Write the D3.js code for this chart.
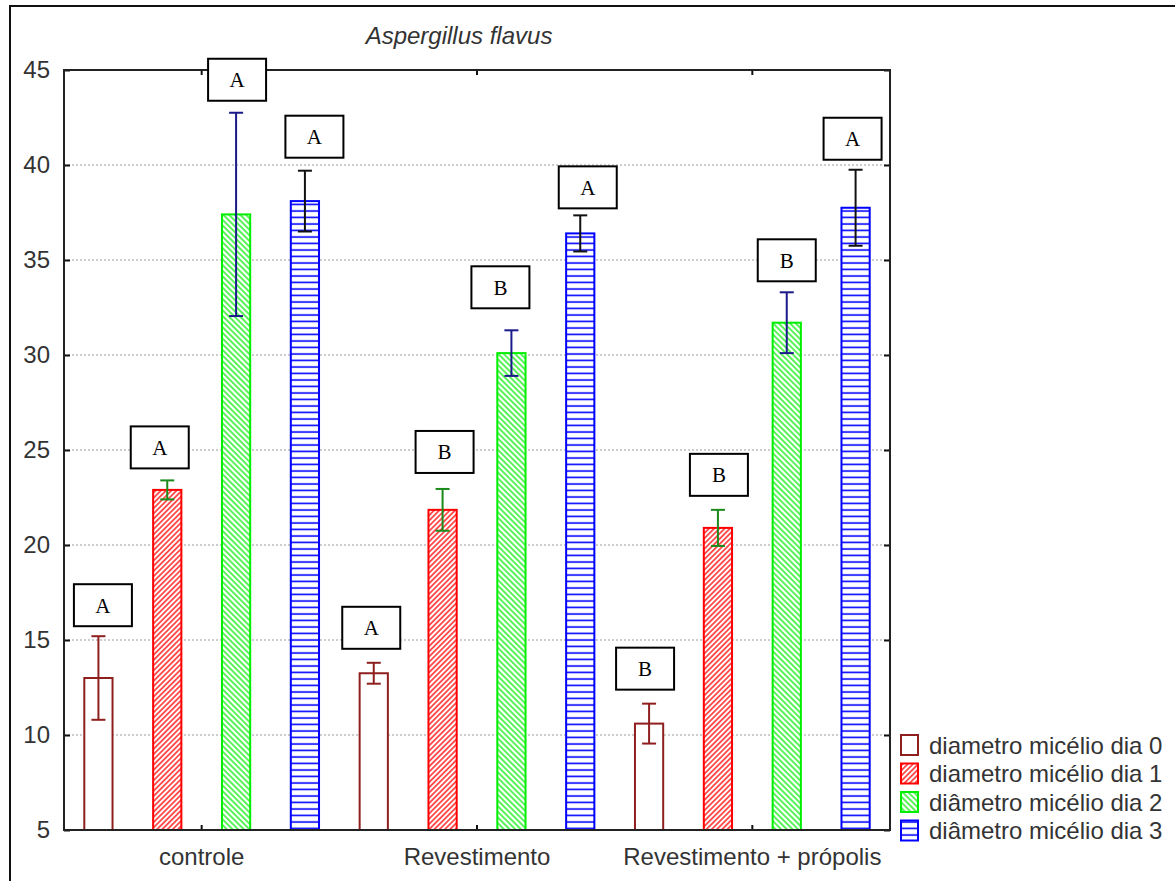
<!DOCTYPE html>
<html>
<head>
<meta charset="utf-8">
<script src="https://cdn.jsdelivr.net/npm/d3@7"></script>
<style>
  html, body { margin: 0; padding: 0; background: #fff; }
  svg { display: block; }
  text { font-family: Arial, "Liberation Sans", sans-serif; fill: #333; }
</style>
</head>
<body>
<svg id="chart" width="1175" height="881"></svg>
<script>
// Mycelium diameter of Aspergillus flavus by treatment and day
const categories = ["controle", "Revestimento", "Revestimento + própolis"];
const seriesNames = [
  "diametro micélio dia 0",
  "diametro micélio dia 1",
  "diâmetro micélio dia 2",
  "diâmetro micélio dia 3"
];
const dia0Mean = [13.0, 13.25, 10.6];
const dia0Err  = [2.2, 0.55, 1.05];
const dia1Mean = [22.9, 21.85, 20.9];
const dia1Err  = [0.5, 1.1, 0.95];
const dia2Mean = [37.4, 30.1, 31.7];
const dia2Err  = [5.35, 1.2, 1.6];
const dia3Mean = [38.1, 36.4, 37.75];
const dia3Err  = [1.6, 0.95, 2.0];
const dia0Letters = ["A", "A", "B"];
const dia1Letters = ["A", "B", "B"];
const dia2Letters = ["A", "B", "B"];
const dia3Letters = ["A", "A", "A"];
const yTicks = [5, 10, 15, 20, 25, 30, 35, 40, 45];

// Letter-box placement tweaks (pixels): horizontal shift and gap above the error cap
const letterDx  = [[4.5, -2.5, -4], [-7.5, 2, 1], [1, -11, 0], [9.5, 7.5, -3]];
const letterGap = [[10, 14, 14], [12, 16, 14], [12, 22, 11], [13, 7, 10]];

const means = [dia0Mean, dia1Mean, dia2Mean, dia3Mean];
const errs = [dia0Err, dia1Err, dia2Err, dia3Err];
const letters = [dia0Letters, dia1Letters, dia2Letters, dia3Letters];

const barStroke = ["#8f1f1f", "#ff0000", "#00ee00", "#0000ff"];
const errColor = ["#8f1f1f", "#1a8a1a", "#1a1a8a", "#111111"];
const fills = ["#ffffff", "url(#hatchRed)", "url(#hatchGreen)", "url(#hatchBlue)"];

const svg = d3.select("#chart");
const plot = { left: 64, right: 890, top: 70, bottom: 830 };
const FONT = 24;

// Patterns
const defs = svg.append("defs");
function diag(id, color, angle, gap) {
  const p = defs.append("pattern").attr("id", id)
    .attr("patternUnits", "userSpaceOnUse")
    .attr("width", gap).attr("height", gap)
    .attr("patternTransform", `rotate(${angle})`);
  p.append("rect").attr("width", gap).attr("height", gap).attr("fill", "#fff");
  p.append("line").attr("x1", gap / 2).attr("x2", gap / 2).attr("y1", 0).attr("y2", gap)
    .attr("stroke", color).attr("stroke-width", 1.3);
}
diag("hatchRed", "#ff0000", 45, 3.7);
diag("hatchGreen", "#00ee00", -45, 4.0);
const hb = defs.append("pattern").attr("id", "hatchBlue")
  .attr("patternUnits", "userSpaceOnUse").attr("width", 10).attr("height", 6.5);
hb.append("rect").attr("width", 10).attr("height", 6.5).attr("fill", "#fff");
hb.append("line").attr("x1", 0).attr("x2", 10).attr("y1", 3).attr("y2", 3)
  .attr("stroke", "#0000ff").attr("stroke-width", 1.6);

// Outer frame
svg.append("path").attr("d", "M10,881 V6 H1175")
  .attr("fill", "none").attr("stroke", "#111").attr("stroke-width", 2);

// Scales
const x0 = d3.scaleBand().domain(categories).range([plot.left, plot.right]).padding(0);
const x1 = d3.scaleBand().domain(d3.range(seriesNames.length)).range([0, x0.bandwidth()]).padding(0);
const barW = x1.bandwidth() * 0.41;
const y = d3.scaleLinear().domain([5, 45]).range([plot.bottom, plot.top]);

// Grid
svg.append("g").selectAll("line")
  .data(yTicks.filter(t => t > 5 && t < 45))
  .join("line")
  .attr("x1", plot.left).attr("x2", plot.right)
  .attr("y1", d => y(d)).attr("y2", d => y(d))
  .attr("stroke", "#bdbdbd").attr("stroke-width", 1.5)
  .attr("stroke-dasharray", "2,2");

// Bars
const cx = (s, c) => x0(categories[c]) + x1(s) + x1.bandwidth() / 2;
const barData = [];
means.forEach((arr, s) => arr.forEach((v, c) => barData.push({ s, c, v, e: errs[s][c], L: letters[s][c] })));

svg.append("g").selectAll("rect")
  .data(barData)
  .join("rect")
  .attr("x", d => cx(d.s, d.c) - barW / 2)
  .attr("y", d => y(d.v))
  .attr("width", barW)
  .attr("height", d => y(5) - y(d.v))
  .attr("fill", d => fills[d.s])
  .attr("stroke", d => barStroke[d.s])
  .attr("stroke-width", 2);

// Error bars
const eg = svg.append("g");
barData.forEach(d => {
  const x = cx(d.s, d.c);
  const col = errColor[d.s];
  eg.append("line").attr("x1", x).attr("x2", x)
    .attr("y1", y(d.v + d.e)).attr("y2", y(d.v - d.e))
    .attr("stroke", col).attr("stroke-width", 2);
  [d.v + d.e, d.v - d.e].forEach(v => {
    eg.append("line").attr("x1", x - 7).attr("x2", x + 7)
      .attr("y1", y(v)).attr("y2", y(v))
      .attr("stroke", col).attr("stroke-width", 2);
  });
});

// Axes frame and ticks
const axL = svg.append("g").attr("transform", `translate(${plot.left},0)`)
  .call(d3.axisLeft(y).tickValues(yTicks).tickSize(-6).tickPadding(14).tickFormat(d3.format("d")));
axL.select(".domain").remove();
axL.selectAll(".tick line").attr("stroke", "#111").attr("stroke-width", 2);
axL.selectAll(".tick text").attr("font-size", FONT).attr("fill", "#333")
  .attr("font-family", "Arial, 'Liberation Sans', sans-serif");

const axR = svg.append("g").attr("transform", `translate(${plot.right},0)`)
  .call(d3.axisRight(y).tickValues(yTicks).tickSize(-6).tickFormat(""));
axR.select(".domain").remove();
axR.selectAll(".tick line").attr("stroke", "#111").attr("stroke-width", 2);

const axB = svg.append("g").attr("transform", `translate(0,${plot.bottom})`)
  .call(d3.axisBottom(x0).tickSize(-5).tickPadding(18));
axB.select(".domain").remove();
axB.selectAll(".tick line").attr("stroke", "#111").attr("stroke-width", 2);
axB.selectAll(".tick text").attr("font-size", FONT).attr("fill", "#333")
  .attr("font-family", "Arial, 'Liberation Sans', sans-serif");

const axT = svg.append("g").attr("transform", `translate(0,${plot.top})`)
  .call(d3.axisTop(x0).tickSize(-5).tickFormat(""));
axT.select(".domain").remove();
axT.selectAll(".tick line").attr("stroke", "#111").attr("stroke-width", 2);

svg.append("rect")
  .attr("x", plot.left).attr("y", plot.top)
  .attr("width", plot.right - plot.left).attr("height", plot.bottom - plot.top)
  .attr("fill", "none").attr("stroke", "#222").attr("stroke-width", 2);

// Significance letters
const boxW = 58, boxH = 42;
const lg = svg.append("g");
barData.forEach(d => {
  const x = cx(d.s, d.c) + letterDx[d.s][d.c];
  const bottom = y(d.v + d.e) - letterGap[d.s][d.c];
  lg.append("rect").attr("x", x - boxW / 2).attr("y", bottom - boxH)
    .attr("width", boxW).attr("height", boxH)
    .attr("fill", "#fff").attr("stroke", "#000").attr("stroke-width", 2);
  lg.append("text").attr("x", x).attr("y", bottom - boxH / 2 + 7.5)
    .attr("text-anchor", "middle")
    .style("font-family", "'Liberation Serif', 'Times New Roman', serif")
    .style("fill", "#000")
    .attr("font-size", 21).text(d.L);
});

// Title
svg.append("text").attr("x", 459).attr("y", 44)
  .attr("text-anchor", "middle").attr("font-size", FONT)
  .attr("font-style", "italic").text("Aspergillus flavus");

// Legend
const leg = svg.append("g");
seriesNames.forEach((name, i) => {
  const yy = 735 + i * 28.5;
  leg.append("rect").attr("x", 901).attr("y", yy)
    .attr("width", 17).attr("height", 20)
    .attr("fill", fills[i]).attr("stroke", barStroke[i]).attr("stroke-width", 2);
  leg.append("text").attr("x", 929).attr("y", yy + 18.5)
    .attr("font-size", FONT).text(name);
});
</script>
</body>
</html>
